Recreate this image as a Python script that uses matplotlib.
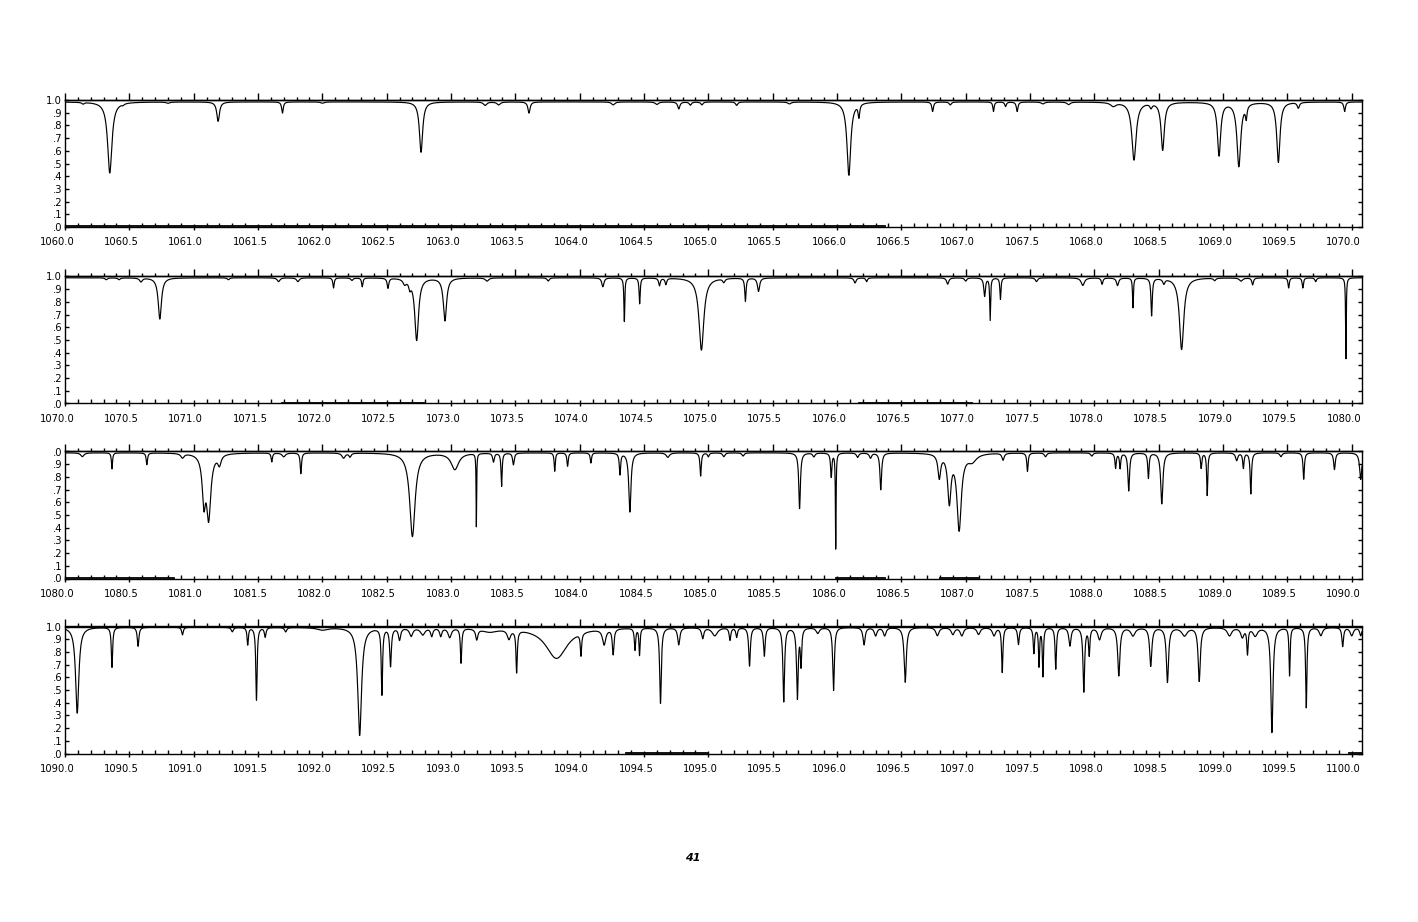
import numpy as np
import matplotlib
matplotlib.use("Agg")
import matplotlib.pyplot as plt
from matplotlib.ticker import MultipleLocator, FixedLocator
from matplotlib import font_manager
from matplotlib.transforms import ScaledTranslation

# ---------------- data (read from the atlas page) ----------------
panel_starts = [1060.0, 1070.0, 1080.0, 1090.0]
continua = [0.985, 0.99, 0.99, 0.995]

p1_centers = [1060.14, 1060.348, 1060.45, 1060.80, 1061.19, 1061.69, 1062.00, 1062.767, 1063.265,
              1063.37, 1063.606, 1064.26, 1064.60, 1064.77, 1064.86, 1064.95, 1065.22, 1065.63,
              1066.092, 1066.17, 1066.743, 1066.88, 1067.216, 1067.31, 1067.40, 1067.6, 1067.8,
              1068.147, 1068.308, 1068.44, 1068.531, 1068.969, 1069.123, 1069.18, 1069.43,
              1069.585, 1069.945]
p1_minima = [0.972, 0.425, 0.975, 0.975, 0.832, 0.897, 0.975, 0.588, 0.958, 0.962, 0.897, 0.962,
             0.965, 0.93, 0.96, 0.962, 0.958, 0.97, 0.407, 0.88, 0.91, 0.962, 0.91, 0.95, 0.91,
             0.97, 0.965, 0.955, 0.528, 0.95, 0.606, 0.562, 0.477, 0.88, 0.51, 0.94, 0.91]
p1_widths = [0.02, 0.04, 0.02, 0.03, 0.025, 0.015, 0.03, 0.03, 0.03, 0.03, 0.02, 0.03, 0.03, 0.02,
             0.02, 0.02, 0.02, 0.03, 0.035, 0.015, 0.015, 0.02, 0.012, 0.015, 0.015, 0.03, 0.03,
             0.05, 0.04, 0.02, 0.03, 0.03, 0.035, 0.015, 0.03, 0.02, 0.015]

p2_centers = [1070.32, 1070.42, 1070.59, 1070.737, 1071.27, 1071.66, 1071.81, 1072.087, 1072.23,
              1072.31, 1072.51, 1072.64, 1072.68, 1072.733, 1072.953, 1073.28, 1073.755, 1074.18,
              1074.347, 1074.466, 1074.62, 1074.67, 1074.946, 1075.12, 1075.288, 1075.39, 1076.14,
              1076.23, 1076.86, 1077.0, 1077.147, 1077.19, 1077.27, 1077.55, 1077.91, 1078.06,
              1078.18, 1078.30, 1078.445, 1078.54, 1078.678, 1078.935, 1079.14, 1079.23, 1079.51,
              1079.62, 1079.72, 1079.955]
p2_minima = [0.975, 0.975, 0.96, 0.665, 0.975, 0.96, 0.96, 0.91, 0.97, 0.92, 0.91, 0.95, 0.93,
             0.497, 0.652, 0.965, 0.965, 0.92, 0.64, 0.786, 0.93, 0.94, 0.42, 0.96, 0.807, 0.884,
             0.95, 0.96, 0.94, 0.965, 0.845, 0.652, 0.82, 0.96, 0.93, 0.94, 0.93, 0.75, 0.69,
             0.95, 0.425, 0.97, 0.965, 0.935, 0.91, 0.91, 0.96, 0.348]
p2_widths = [0.02, 0.02, 0.025, 0.03, 0.02, 0.025, 0.025, 0.012, 0.02, 0.012, 0.015, 0.03, 0.02,
             0.035, 0.03, 0.03, 0.02, 0.02, 0.008, 0.01, 0.015, 0.015, 0.045, 0.02, 0.012, 0.02,
             0.02, 0.015, 0.02, 0.02, 0.015, 0.008, 0.01, 0.02, 0.03, 0.015, 0.02, 0.008, 0.012,
             0.02, 0.04, 0.02, 0.03, 0.015, 0.012, 0.012, 0.015, 0.006]

p3_centers = [1080.135, 1080.365, 1080.636, 1080.913, 1081.08, 1081.116, 1081.20, 1081.607,
              1081.70, 1081.833, 1082.165, 1082.215, 1082.70, 1083.03, 1083.197, 1083.33,
              1083.393, 1083.485, 1083.806, 1083.906, 1084.087, 1084.313, 1084.39, 1084.685,
              1084.94, 1085.0, 1085.12, 1085.27, 1085.709, 1085.82, 1085.955, 1085.99, 1086.16,
              1086.26, 1086.34, 1086.795, 1086.873, 1086.949, 1087.05, 1087.29, 1087.48, 1087.62,
              1087.98, 1088.165, 1088.20, 1088.267, 1088.42, 1088.524, 1088.83, 1088.877,
              1089.106, 1089.158, 1089.216, 1089.45, 1089.627, 1089.866, 1090.07]
p3_minima = [0.96, 0.863, 0.897, 0.955, 0.6, 0.47, 0.91, 0.92, 0.96, 0.825, 0.95, 0.96, 0.33,
             0.86, 0.41, 0.92, 0.724, 0.897, 0.845, 0.884, 0.91, 0.82, 0.523, 0.955, 0.807, 0.96,
             0.96, 0.965, 0.549, 0.96, 0.8, 0.214, 0.955, 0.95, 0.70, 0.8, 0.6, 0.38, 0.93, 0.935,
             0.845, 0.96, 0.965, 0.87, 0.87, 0.69, 0.79, 0.588, 0.87, 0.652, 0.93, 0.87, 0.665,
             0.96, 0.78, 0.858, 0.78]
p3_widths = [0.03, 0.01, 0.012, 0.03, 0.03, 0.04, 0.03, 0.012, 0.03, 0.012, 0.03, 0.02, 0.05,
             0.07, 0.005, 0.015, 0.01, 0.015, 0.01, 0.012, 0.012, 0.012, 0.02, 0.03, 0.012, 0.015,
             0.02, 0.02, 0.015, 0.02, 0.012, 0.006, 0.02, 0.02, 0.015, 0.025, 0.03, 0.04, 0.08,
             0.02, 0.012, 0.02, 0.02, 0.012, 0.012, 0.015, 0.012, 0.02, 0.012, 0.01, 0.02, 0.012,
             0.012, 0.02, 0.012, 0.015, 0.02]

p4_centers = [1090.095, 1090.365, 1090.568, 1090.913, 1091.30, 1091.42, 1091.488, 1091.556,
              1091.715, 1092.0, 1092.29, 1092.463, 1092.53, 1092.6, 1092.69, 1092.78, 1092.85,
              1092.92, 1092.99, 1093.078, 1093.2, 1093.3, 1093.45, 1093.51, 1093.82, 1094.01,
              1094.19, 1094.26, 1094.43, 1094.465, 1094.628, 1094.77, 1094.956, 1095.05, 1095.168,
              1095.22, 1095.32, 1095.435, 1095.586, 1095.692, 1095.72, 1095.85, 1095.973, 1096.21,
              1096.30, 1096.37, 1096.53, 1096.78, 1096.9, 1096.97, 1097.1, 1097.22, 1097.284,
              1097.41, 1097.53, 1097.57, 1097.60, 1097.70, 1097.81, 1097.918, 1097.96, 1098.04,
              1098.19, 1098.30, 1098.438, 1098.568, 1098.70, 1098.815, 1099.05, 1099.15, 1099.19,
              1099.25, 1099.38, 1099.517, 1099.647, 1099.76, 1099.93, 1100.0, 1100.07]
p4_minima = [0.317, 0.678, 0.845, 0.935, 0.96, 0.858, 0.42, 0.92, 0.96, 0.975, 0.142, 0.459, 0.69,
             0.9, 0.93, 0.94, 0.93, 0.93, 0.92, 0.716, 0.91, 0.965, 0.92, 0.652, 0.75, 0.81, 0.87,
             0.79, 0.82, 0.78, 0.394, 0.86, 0.91, 0.93, 0.897, 0.92, 0.69, 0.77, 0.407, 0.433,
             0.7, 0.95, 0.497, 0.858, 0.93, 0.93, 0.562, 0.93, 0.94, 0.93, 0.94, 0.93, 0.64, 0.86,
             0.79, 0.69, 0.61, 0.665, 0.85, 0.485, 0.78, 0.9, 0.613, 0.93, 0.69, 0.562, 0.93,
             0.57, 0.93, 0.92, 0.79, 0.93, 0.162, 0.613, 0.356, 0.93, 0.845, 0.93, 0.93]
p4_widths = [0.03, 0.012, 0.015, 0.015, 0.02, 0.012, 0.012, 0.015, 0.02, 0.1, 0.035, 0.012, 0.015,
             0.02, 0.03, 0.04, 0.02, 0.02, 0.03, 0.012, 0.02, 0.15, 0.03, 0.012, 0.2, 0.012, 0.03,
             0.015, 0.012, 0.01, 0.015, 0.02, 0.02, 0.05, 0.015, 0.015, 0.015, 0.015, 0.015, 0.015,
             0.012, 0.03, 0.015, 0.02, 0.025, 0.025, 0.02, 0.03, 0.03, 0.03, 0.03, 0.03, 0.012,
             0.015, 0.012, 0.01, 0.01, 0.012, 0.02, 0.015, 0.012, 0.03, 0.02, 0.04, 0.02, 0.02,
             0.05, 0.02, 0.04, 0.03, 0.012, 0.04, 0.02, 0.01, 0.012, 0.03, 0.015, 0.03, 0.02]

zero_segments = [[(1060.0, 1066.37)],
                 [(1071.69, 1072.79), (1076.17, 1077.05)],
                 [(1080.0, 1080.85), (1085.99, 1086.37), (1086.8, 1087.1)],
                 [(1094.36, 1095.0), (1099.98, 1100.08)]]

y_tick_labels = [[".0", ".1", ".2", ".3", ".4", ".5", ".6", ".7", ".8", ".9", "1.0"],
                 [".0", ".1", ".2", ".3", ".4", ".5", ".6", ".7", ".8", ".9", "1.0"],
                 [".0", ".1", ".2", ".3", ".4", ".5", ".6", ".7", ".8", ".9", ".0"],
                 [".0", ".1", ".2", ".3", ".4", ".5", ".6", ".7", ".8", ".9", "1.0"]]

centers_all = [p1_centers, p2_centers, p3_centers, p4_centers]
minima_all = [p1_minima, p2_minima, p3_minima, p4_minima]
widths_all = [p1_widths, p2_widths, p3_widths, p4_widths]
page_number = "41"

# ---------------- fonts ----------------
fonts = font_manager.fontManager.ttflist
names = {f.name for f in fonts}
has_condensed = any(f.name == "DejaVu Sans" and f.stretch in ("condensed", 600, "semi-condensed")
                    or "Condensed" in f.fname for f in fonts)
if "Liberation Sans Narrow" in names:
    tick_kw = dict(fontfamily="Liberation Sans Narrow", fontsize=9)
elif has_condensed:
    tick_kw = dict(fontfamily="DejaVu Sans", fontstretch="condensed", fontsize=8)
else:
    tick_kw = dict(fontfamily="DejaVu Sans", fontsize=7.5)

# ---------------- figure ----------------
W, H = 1418, 922
fig = plt.figure(figsize=(W / 100, H / 100), dpi=100)
fig.patch.set_facecolor("white")

left_px, right_px = 65, 1362
panel_tops = [100, 276.5, 451.5, 626.5]
panel_h = 127

for i, start in enumerate(panel_starts):
    top = panel_tops[i]
    ax = fig.add_axes([left_px / W, 1 - (top + panel_h) / H, (right_px - left_px) / W, panel_h / H])
    x0, x1 = start, start + 10.08
    x = np.linspace(x0, x1, 8000)
    C = continua[i]
    flux = np.full_like(x, C)
    for c, v, w in zip(centers_all[i], minima_all[i], widths_all[i]):
        d = 1 - v / C
        flux *= 1 - d / (1 + ((x - c) / (w / 2)) ** 2)
    ax.plot(x, flux, color="black", lw=0.85)
    for a, b in zero_segments[i]:
        ax.plot([a, b], [0.006, 0.006], color="black", lw=1.3)

    ax.set_xlim(x0, x1)
    ax.set_ylim(0, 1.0)
    for s in ax.spines.values():
        s.set_linewidth(1.0)

    majors = np.arange(start, start + 10.001, 0.5)
    ax.xaxis.set_major_locator(FixedLocator(majors))
    ax.xaxis.set_minor_locator(MultipleLocator(0.1))
    ax.set_xticklabels([f"{m:.1f}" for m in majors], **tick_kw)
    ax.tick_params(axis="x", which="major", direction="inout", length=5, width=1, pad=5,
                   top=False, bottom=True)
    ax.tick_params(axis="x", which="minor", direction="in", length=3, width=1,
                   top=False, bottom=True)
    for lab in ax.get_xticklabels():
        lab.set_transform(lab.get_transform() + ScaledTranslation(-8 / 100, 0, fig.dpi_scale_trans))

    sec = ax.secondary_xaxis("top")
    sec.xaxis.set_major_locator(FixedLocator(majors))
    sec.xaxis.set_minor_locator(MultipleLocator(0.1))
    sec.tick_params(axis="x", which="major", direction="out", length=5, width=1, labeltop=False)
    sec.tick_params(axis="x", which="minor", direction="out", length=2.5, width=1)
    sec.spines["top"].set_linewidth(1.0)

    ax.yaxis.set_major_locator(FixedLocator(np.linspace(0, 1, 11)))
    ax.set_yticklabels(y_tick_labels[i], **tick_kw)
    ax.tick_params(axis="y", which="major", direction="in", length=3, width=1, pad=2,
                   left=True, right=True, labelleft=True)

fig.text(693 / W, 1 - 858 / H, page_number, ha="center", va="center", fontsize=8,
         fontweight="bold", fontstyle="italic")

fig.savefig("out.png", dpi=100, facecolor="white")
